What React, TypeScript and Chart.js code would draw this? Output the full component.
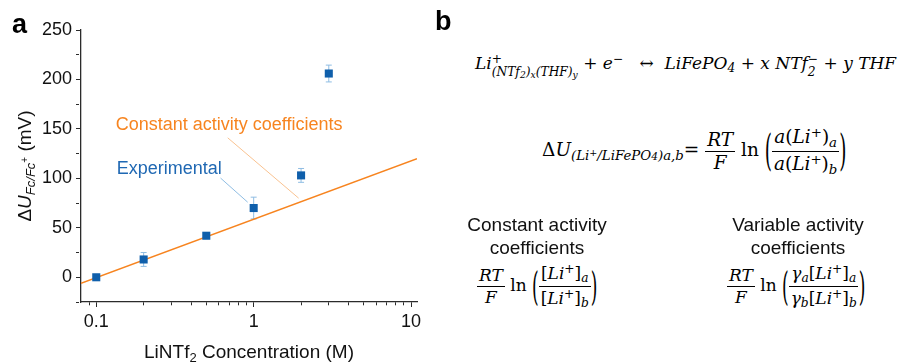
import React, { useEffect, useRef } from 'react';
import { Chart, registerables } from 'chart.js';

Chart.register(...registerables);

// ---------- data ----------
const concentrations = [0.1, 0.2, 0.5, 1, 2, 3];
const deltaU = [0, 18, 42, 70, 103, 206];
const deltaUErr = [2, 7, 2, 11, 7, 8.5];
const fitX = [0.08, 10.9];
const fitY = [-6, 120];
const xTickValues = [0.09, 0.1, 0.2, 0.3, 0.4, 0.5, 0.6, 0.7, 0.8, 0.9, 1, 2, 3, 4, 5, 6, 7, 8, 9, 10];
const xMajorTicks = [0.1, 1, 10];
const xTickLabels = ['0.1', '1', '10'];
const yMin = -25;
const yMax = 250;
const yStep = 25;
const yLabelStep = 50;

// ---------- styles ----------
const BLUE = '#0f5fab';
const BLUE_LIGHT = '#8fbde3';
const ORANGE = '#f7841f';
const ORANGE_LIGHT = '#f9c290';
const AXIS = '#2b2b2b';
const SANS = '"Liberation Sans", Arial, sans-serif';
const MATH = '"DejaVu Serif", "Liberation Serif", serif';

// annotation anchors (data coordinates)
const annConst = { x: 0.133, y: 154, text: 'Constant activity coefficients', from: [0.684, 141], to: [1.93, 80] };
const annExp = { x: 0.135, y: 109.5, text: 'Experimental', from: [0.616, 100.3], to: [0.916, 75.9] };

type Piece = { t: string; font: string; dy?: number };

function drawPieces(ctx: CanvasRenderingContext2D, pieces: Piece[], cx: number, baseY: number) {
  let total = 0;
  for (const p of pieces) {
    ctx.font = p.font;
    total += ctx.measureText(p.t).width;
  }
  let x = cx - total / 2;
  for (const p of pieces) {
    ctx.font = p.font;
    ctx.fillText(p.t, x, baseY + (p.dy || 0));
    x += ctx.measureText(p.t).width;
  }
}

const overlayPlugin = {
  id: 'overlay',
  beforeDatasetsDraw(chart: any) {
    const { ctx, scales } = chart;
    const xs = scales.x;
    const ys = scales.y;
    ctx.save();
    ctx.strokeStyle = BLUE_LIGHT;
    ctx.lineWidth = 1;
    concentrations.forEach((c, i) => {
      const px = xs.getPixelForValue(c);
      const top = ys.getPixelForValue(deltaU[i] + deltaUErr[i]);
      const bot = ys.getPixelForValue(deltaU[i] - deltaUErr[i]);
      ctx.beginPath();
      ctx.moveTo(px, top);
      ctx.lineTo(px, bot);
      ctx.moveTo(px - 3, top);
      ctx.lineTo(px + 3, top);
      ctx.moveTo(px - 3, bot);
      ctx.lineTo(px + 3, bot);
      ctx.stroke();
    });
    ctx.restore();
  },
  afterDatasetsDraw(chart: any) {
    const { ctx, scales } = chart;
    const xs = scales.x;
    const ys = scales.y;
    ctx.save();
    const lead = (a: any, color: string) => {
      ctx.strokeStyle = color;
      ctx.lineWidth = 1;
      ctx.beginPath();
      ctx.moveTo(xs.getPixelForValue(a.from[0]), ys.getPixelForValue(a.from[1]));
      ctx.lineTo(xs.getPixelForValue(a.to[0]), ys.getPixelForValue(a.to[1]));
      ctx.stroke();
    };
    lead(annConst, ORANGE_LIGHT);
    lead(annExp, BLUE_LIGHT);
    ctx.textBaseline = 'middle';
    ctx.textAlign = 'left';
    ctx.font = `18px ${SANS}`;
    ctx.fillStyle = ORANGE;
    ctx.fillText(annConst.text, xs.getPixelForValue(annConst.x), ys.getPixelForValue(annConst.y));
    ctx.fillStyle = '#1f68b3';
    ctx.fillText(annExp.text, xs.getPixelForValue(annExp.x), ys.getPixelForValue(annExp.y));
    ctx.restore();
  },
  afterDraw(chart: any) {
    const { ctx, chartArea } = chart;
    ctx.save();
    ctx.fillStyle = '#111';
    ctx.textBaseline = 'alphabetic';
    ctx.textAlign = 'left';
    drawPieces(
      ctx,
      [
        { t: 'LiNTf', font: `19px ${SANS}` },
        { t: '2', font: `13px ${SANS}`, dy: 4 },
        { t: ' Concentration (M)', font: `19px ${SANS}` },
      ],
      (chartArea.left + chartArea.right) / 2,
      358
    );
    ctx.translate(31, (chartArea.top + chartArea.bottom) / 2);
    ctx.rotate(-Math.PI / 2);
    drawPieces(
      ctx,
      [
        { t: 'Δ', font: `19px ${SANS}` },
        { t: 'U', font: `italic 19px ${SANS}` },
        { t: 'Fc/Fc', font: `italic 13px ${SANS}`, dy: 4 },
        { t: '+', font: `10px ${SANS}`, dy: -3 },
        { t: ' (mV)', font: `19px ${SANS}` },
      ],
      0,
      0
    );
    ctx.restore();
    ctx.save();
    ctx.fillStyle = '#000';
    ctx.font = `bold 27px ${SANS}`;
    ctx.textBaseline = 'alphabetic';
    ctx.fillText('a', 12, 33);
    ctx.restore();
  },
};

function ChartPanel() {
  const ref = useRef<HTMLCanvasElement | null>(null);
  useEffect(() => {
    if (!ref.current) return;
    const chart = new Chart(ref.current, {
      type: 'scatter',
      data: {
        datasets: [
          {
            type: 'scatter',
            label: 'Experimental',
            data: concentrations.map((c, i) => ({ x: c, y: deltaU[i] })),
            pointStyle: 'rect',
            pointRadius: 5.7,
            pointBackgroundColor: BLUE,
            pointBorderColor: BLUE,
            pointBorderWidth: 0,
            order: 0,
          },
          {
            type: 'line',
            label: 'Constant activity coefficients',
            data: fitX.map((x, i) => ({ x, y: fitY[i] })),
            borderColor: ORANGE,
            borderWidth: 1.5,
            pointRadius: 0,
            fill: false,
            order: 1,
          } as any,
        ],
      },
      options: {
        animation: false,
        responsive: true,
        maintainAspectRatio: false,
        layout: { padding: { left: 0, right: 23, top: 30, bottom: 0 } },
        plugins: { legend: { display: false }, tooltip: { enabled: false } },
        scales: {
          x: {
            type: 'logarithmic',
            min: 0.08,
            max: 10.9,
            afterBuildTicks: (scale: any) => {
              scale.ticks = xTickValues.map((v) => ({ value: v, major: xMajorTicks.includes(v) }));
            },
            afterFit: (scale: any) => {
              scale.height = 60;
            },
            ticks: {
              autoSkip: false,
              maxRotation: 0,
              minRotation: 0,
              padding: 4,
              color: '#111',
              font: { family: SANS, size: 18 },
              callback: (v: any) => {
                const idx = xMajorTicks.indexOf(Number(v));
                return idx >= 0 ? xTickLabels[idx] : '';
              },
            },
            grid: {
              display: true,
              drawOnChartArea: false,
              drawTicks: true,
              tickLength: 5,
              tickColor: AXIS,
              tickWidth: 1,
              tickBorderDash: (ctx: any) => (ctx.tick && xMajorTicks.includes(ctx.tick.value) ? [] : [3, 30]),
            },
            border: { display: true, color: AXIS, width: 1.3 },
          },
          y: {
            type: 'linear',
            min: yMin,
            max: yMax,
            afterFit: (scale: any) => {
              scale.width = 81;
            },
            ticks: {
              stepSize: yStep,
              autoSkip: false,
              padding: 4,
              color: '#111',
              font: { family: SANS, size: 18 },
              callback: (v: any) => (Number(v) % yLabelStep === 0 ? String(v) : ''),
            },
            grid: {
              display: true,
              drawOnChartArea: false,
              drawTicks: true,
              tickLength: 5,
              tickColor: AXIS,
              tickWidth: 1,
              tickBorderDash: (ctx: any) => (ctx.tick && ctx.tick.value % yLabelStep === 0 ? [] : [3, 30]),
            },
            border: { display: true, color: AXIS, width: 1.3 },
          },
        },
      },
      plugins: [overlayPlugin],
    });
    return () => chart.destroy();
  }, []);
  return (
    <div style={{ position: 'absolute', left: 0, top: 0, width: 440, height: 362 }}>
      <canvas ref={ref} />
    </div>
  );
}

const I = ({ children }: any) => <span style={{ fontStyle: 'italic' }}>{children}</span>;

const SubSup = ({ sup, sub }: any) => (
  <span
    style={{
      display: 'inline-flex',
      flexDirection: 'column',
      fontSize: '0.72em',
      lineHeight: 1.0,
      verticalAlign: '0.42em',
      fontStyle: 'italic',
    }}
  >
    <span>{sup}</span>
    <span>{sub}</span>
  </span>
);

const Sub = ({ children }: any) => (
  <span style={{ fontSize: '0.72em', verticalAlign: '-0.3em', fontStyle: 'italic' }}>{children}</span>
);
const Sup = ({ children }: any) => (
  <span style={{ fontSize: '0.72em', verticalAlign: '0.45em' }}>{children}</span>
);

const Frac = ({ n, d }: any) => (
  <span
    style={{
      display: 'inline-flex',
      flexDirection: 'column',
      alignItems: 'center',
      verticalAlign: 'middle',
      lineHeight: 1.2,
    }}
  >
    <span style={{ borderBottom: '1px solid #000', padding: '0 2px' }}>{n}</span>
    <span style={{ padding: '0 2px' }}>{d}</span>
  </span>
);

const Paren = ({ children }: any) => (
  <span style={{ display: 'inline-flex', alignItems: 'center', verticalAlign: 'middle' }}>
    <span style={{ display: 'inline-block', transform: 'scaleY(2.3)', fontSize: '1em' }}>(</span>
    {children}
    <span style={{ display: 'inline-block', transform: 'scaleY(2.3)', fontSize: '1em' }}>)</span>
  </span>
);

const LiPlus = () => (
  <>
    <I>Li</I>
    <Sup>+</Sup>
  </>
);

function PanelB() {
  const mathBase: React.CSSProperties = {
    position: 'absolute',
    fontFamily: MATH,
    fontSize: 17,
    color: '#000',
    whiteSpace: 'pre',
    lineHeight: 1.2,
  };
  const label: React.CSSProperties = {
    position: 'absolute',
    width: 220,
    textAlign: 'center',
    fontFamily: SANS,
    fontSize: 19,
    lineHeight: '23px',
    color: '#111',
  };
  const small: React.CSSProperties = { fontSize: '0.75em', verticalAlign: '-0.2em' };
  return (
    <>
      <div style={{ position: 'absolute', left: 435, top: 6, fontFamily: SANS, fontWeight: 'bold', fontSize: 27 }}>b</div>
      <div style={{ ...mathBase, left: 475, top: 52 }}>
        <I>Li</I>
        <SubSup
          sup="+"
          sub={
            <>
              (NTf<span style={small}>2</span>)<span style={small}>x</span>(THF)<span style={small}>y</span>
            </>
          }
        />
        {' + '}
        <I>e</I>
        <Sup>−</Sup>
        {'   ↔  '}
        <I>LiFePO</I>
        <Sub>4</Sub>
        {' + '}
        <I>x NTf</I>
        <SubSup sup="−" sub="2" />
        {' + '}
        <I>y THF</I>
      </div>
      <div style={{ ...mathBase, fontSize: 18.5, left: 542, top: 125 }}>
        <span>Δ</span>
        <I>U</I>
        <Sub>
          (<LiPlus />/LiFePO<span style={{ fontSize: '0.8em' }}>4</span>)a,b
        </Sub>
        {'= '}
        <Frac n={<I>RT</I>} d={<I>F</I>} />
        {' ln '}
        <Paren>
          <Frac
            n={<><I>a</I>(<LiPlus />)<Sub>a</Sub></>}
            d={<><I>a</I>(<LiPlus />)<Sub>b</Sub></>}
          />
        </Paren>
      </div>
      <div style={{ ...label, left: 537 - 110, top: 213 }}>
        Constant activity
        <br />
        coefficients
      </div>
      <div style={{ ...label, left: 798 - 110, top: 213 }}>
        Variable activity
        <br />
        coefficients
      </div>
      <div style={{ ...mathBase, left: 477, top: 262 }}>
        <Frac n={<I>RT</I>} d={<I>F</I>} />
        {' ln '}
        <Paren>
          <Frac n={<>[<LiPlus />]<Sub>a</Sub></>} d={<>[<LiPlus />]<Sub>b</Sub></>} />
        </Paren>
      </div>
      <div style={{ ...mathBase, left: 727, top: 262 }}>
        <Frac n={<I>RT</I>} d={<I>F</I>} />
        {' ln '}
        <Paren>
          <Frac
            n={<><I>γ</I><Sub>a</Sub>[<LiPlus />]<Sub>a</Sub></>}
            d={<><I>γ</I><Sub>b</Sub>[<LiPlus />]<Sub>b</Sub></>}
          />
        </Paren>
      </div>
    </>
  );
}

export default function App() {
  return (
    <div
      style={{
        position: 'fixed',
        left: 0,
        top: 0,
        width: 898,
        height: 362,
        background: '#fff',
        overflow: 'hidden',
      }}
    >
      <ChartPanel />
      <PanelB />
    </div>
  );
}
